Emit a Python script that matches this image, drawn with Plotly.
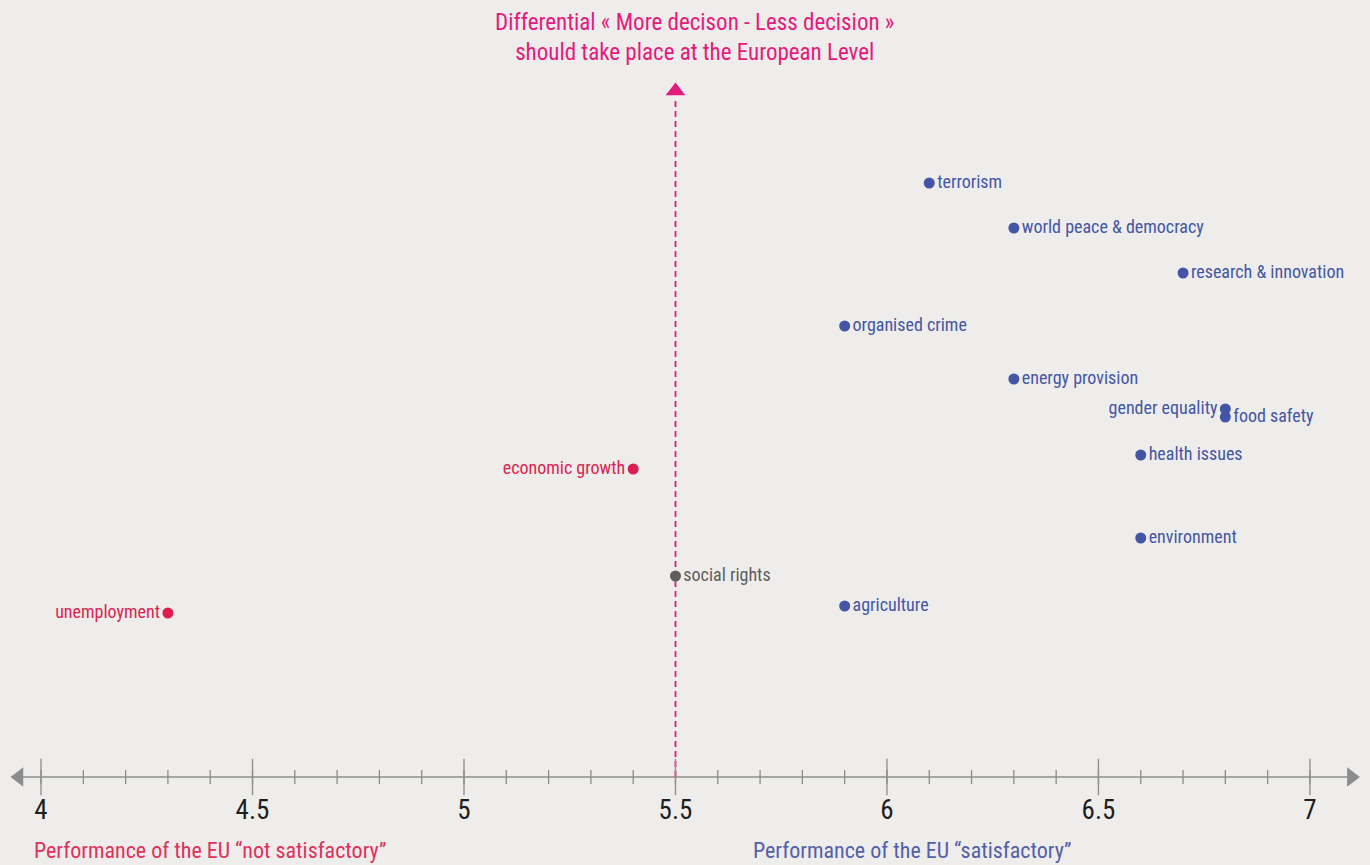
import plotly.graph_objects as go

# ---- data ----
topics = ["terrorism", "world peace & democracy", "research & innovation", "organised crime",
          "energy provision", "gender equality", "food safety", "health issues",
          "economic growth", "environment", "social rights", "agriculture", "unemployment"]
performance = [6.1, 6.3, 6.7, 5.9, 6.3, 6.8, 6.8, 6.6, 5.4, 6.6, 5.5, 5.9, 4.3]
differential = [59.4, 54.9, 50.4, 45.1, 39.8, 36.8, 36.0, 32.2, 30.8, 23.9, 20.1, 17.1, 16.4]
group = ["sat", "sat", "sat", "sat", "sat", "sat_left", "sat", "sat",
         "not", "sat", "mid", "sat", "not"]

major_ticks = [4, 4.5, 5, 5.5, 6, 6.5, 7]
minor_ticks = [round(4 + 0.1 * i, 1) for i in range(31)]
threshold = 5.5

FONT = "Liberation Sans Narrow, Roboto Condensed, Arial Narrow, Roboto, sans-serif"
BLUE = "#4356a5"
RED = "#dc1f50"
GREY = "#5e5e5e"
PINK = "#e6197d"
AXIS = "#8c8c8c"
BG = "#efedeb"

fig = go.Figure()

# axis ticks (centered on the axis line)
fig.add_trace(go.Scatter(x=minor_ticks, y=[0] * len(minor_ticks), mode="markers",
                         marker=dict(symbol="line-ns", size=10, line=dict(color=AXIS, width=1.3)),
                         hoverinfo="skip", showlegend=False))
fig.add_trace(go.Scatter(x=major_ticks, y=[0] * len(major_ticks), mode="markers",
                         marker=dict(symbol="line-ns", size=26, line=dict(color=AXIS, width=1.3)),
                         hoverinfo="skip", showlegend=False))

# axis arrowheads
fig.add_trace(go.Scatter(x=[3.948], y=[0], mode="markers",
                         marker=dict(symbol="triangle-left", size=17, color=AXIS),
                         hoverinfo="skip", showlegend=False))
fig.add_trace(go.Scatter(x=[7.098], y=[0], mode="markers",
                         marker=dict(symbol="triangle-right", size=17, color=AXIS),
                         hoverinfo="skip", showlegend=False))
# vertical arrowhead
fig.add_trace(go.Scatter(x=[threshold], y=[68.6], mode="markers",
                         marker=dict(symbol="triangle-up", size=17, color=PINK),
                         hoverinfo="skip", showlegend=False))

def add_group(key, color, pos):
    xs = [x for x, g in zip(performance, group) if g == key]
    ys = [y for y, g in zip(differential, group) if g == key]
    ts = [t for t, g in zip(topics, group) if g == key]
    fig.add_trace(go.Scatter(x=xs, y=ys, mode="markers+text", text=ts, textposition=pos,
                             marker=dict(size=11, color=color),
                             textfont=dict(family=FONT, size=18, color=color),
                             cliponaxis=False, hoverinfo="skip", showlegend=False))

add_group("sat", BLUE, "middle right")
add_group("sat_left", BLUE, "middle left")
add_group("mid", GREY, "middle right")
add_group("not", RED, "middle left")

# axis line & dashed threshold line
fig.add_shape(type="line", x0=3.95, x1=7.09, y0=0, y1=0, line=dict(color=AXIS, width=1.5), layer="below")
fig.add_shape(type="line", x0=threshold, x1=threshold, y0=0, y1=67.8,
              line=dict(color=PINK, width=1.8, dash="6px,4px"), layer="below")

# titles
fig.add_annotation(x=5.544, y=1.0, yref="paper", yanchor="top",
                   text="Differential « More decison - Less decision »<br>should take place at the European Level",
                   showarrow=False, font=dict(family=FONT, size=23, color=PINK), align="center", yshift=-7)
fig.add_annotation(x=0.023, xref="paper", y=0.0, yref="paper", xanchor="left", yanchor="bottom",
                   text="Performance of the EU “not satisfactory”", showarrow=False,
                   font=dict(family=FONT, size=22, color="#e0305c"), yshift=0)
fig.add_annotation(x=0.548, xref="paper", y=0.0, yref="paper", xanchor="left", yanchor="bottom",
                   text="Performance of the EU “satisfactory”", showarrow=False,
                   font=dict(family=FONT, size=22, color="#5260a8"), yshift=0)

fig.update_layout(
    width=1370, height=865,
    margin=dict(l=0, r=0, t=0, b=0),
    paper_bgcolor=BG, plot_bgcolor=BG,
    xaxis=dict(range=[3.903, 7.142], showgrid=False, zeroline=False, showline=False,
               tickvals=major_ticks, ticktext=[f"{v:g}" for v in major_ticks],
               ticks="", anchor="free", position=(865 - 777) / 865,
               ticklabelstandoff=14,
               tickfont=dict(family=FONT, size=27, color="#1e1e1e")),
    yaxis=dict(range=[-8.8, 77.7], visible=False),
)

fig.write_html("out.html", config={"displayModeBar": False},
               post_script="document.body.style.margin='0';document.body.style.background='#efedeb';")
